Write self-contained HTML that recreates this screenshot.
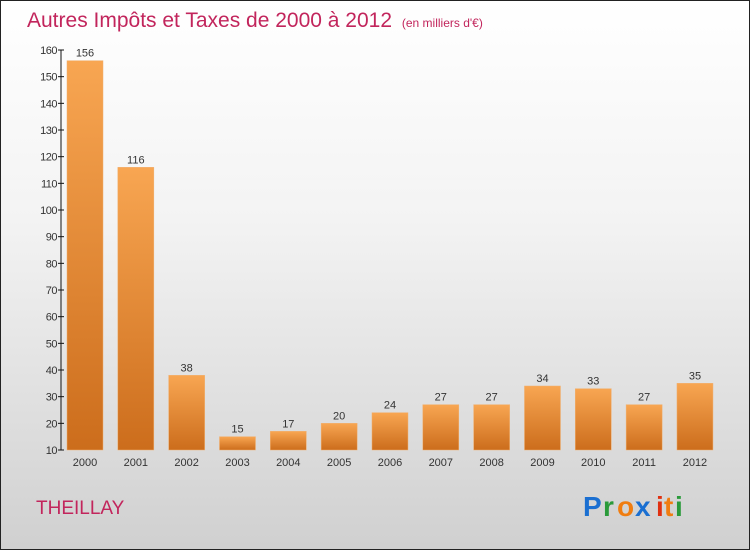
<!DOCTYPE html>
<html><head><meta charset="utf-8"><style>
body{margin:0;}
#c{width:750px;height:550px;position:relative;box-sizing:border-box;border:1px solid #222;background:linear-gradient(#ffffff 0%,#f3f3f3 40%,#d0d0d0 100%);font-family:"Liberation Sans",sans-serif;overflow:hidden}
</style></head><body>
<div id="c">
<svg width="750" height="550" style="position:absolute;left:-1px;top:-1px">
<defs><linearGradient id="g" x1="0" y1="0" x2="0" y2="1"><stop offset="0" stop-color="#f8a652"/><stop offset="1" stop-color="#cc6d1c"/></linearGradient></defs>
<text x="27" y="27" font-size="21" fill="#c2255c">Autres Impôts et Taxes de 2000 à 2012 <tspan font-size="12" dx="4">(en milliers d'€)</tspan></text>
<g id="axis"></g><g id="bars"></g>
<text x="36" y="514" font-size="19" fill="#c2255c">THEILLAY</text>
<g font-size="28" font-weight="bold">
<text x="583" y="516" fill="#1a6fd1">P</text><text x="603" y="516" fill="#2a9a3a">r</text><text x="617" y="516" fill="#f07d10">o</text><text x="635" y="516" fill="#1a6fd1">x</text><text x="656" y="516" fill="#e03010">i</text><text x="664" y="516" fill="#f07d10">t</text><text x="675" y="516" fill="#2a9a3a">i</text></g>
</svg></div>
<script>
const categories=["2000","2001","2002","2003","2004","2005","2006","2007","2008","2009","2010","2011","2012"];
const values=[156,116,38,15,17,20,24,27,27,34,33,27,35];
const ticks=[10,20,30,40,50,60,70,80,90,100,110,120,130,140,150,160];
const ns="http://www.w3.org/2000/svg";
const y=v=>450-(v-10)*400/150;
const x=i=>85+i*50.83;
function mk(t,a,p){const e=document.createElementNS(ns,t);for(const k in a)e.setAttribute(k,a[k]);p.appendChild(e);return e;}
const ax=document.getElementById('axis'),bg=document.getElementById('bars');
const al=mk('line',{x1:61,y1:y(160),x2:61,y2:450,stroke:'#111'},ax);


ticks.forEach(t=>{mk('line',{x1:58,x2:64,y1:y(t),y2:y(t),stroke:'#111'},ax);
const l=mk('text',{x:57,y:y(t)+4,'font-size':11,'text-anchor':'end',fill:'#333','letter-spacing':'-0.5'},ax);l.textContent=t;

});
categories.forEach((c,i)=>{const v=values[i];
const r=mk('rect',{x:x(i)-18,y:y(v),width:36,height:450-y(v),fill:'url(#g)',stroke:'#f0b070','stroke-width':0.5},bg);


const vl=mk('text',{x:x(i),y:y(v)-4,'font-size':11,'text-anchor':'middle',fill:'#333'},bg);vl.textContent=v;


const xl=mk('text',{x:x(i),y:466,'font-size':11,'text-anchor':'middle',fill:'#333'},bg);xl.textContent=c;

});
</script></body></html>
